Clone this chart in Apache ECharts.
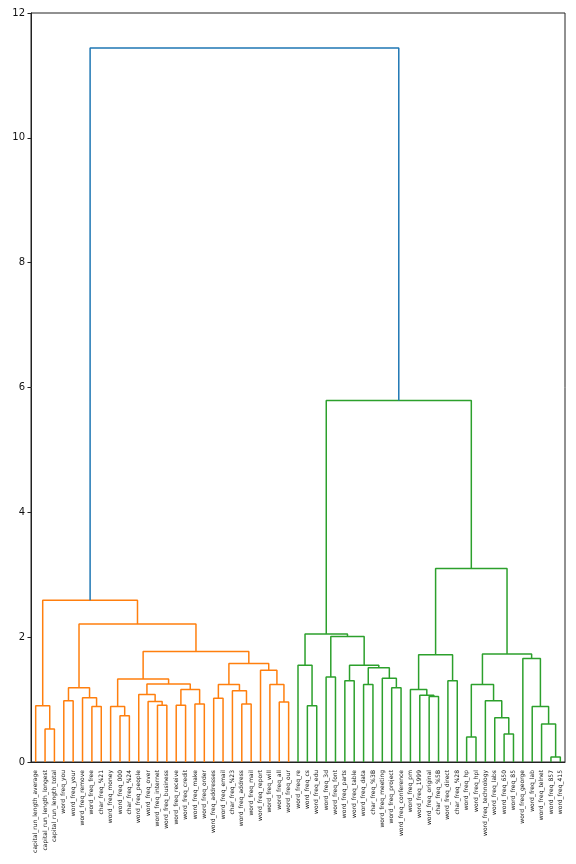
<!DOCTYPE html>
<html>
<head>
<meta charset="utf-8">
<script src="https://cdn.jsdelivr.net/npm/echarts@6/dist/echarts.min.js"></script>
<style>
  html, body { margin: 0; padding: 0; background: #fff; }
  #chart { width: 576px; height: 864px; }
</style>
</head>
<body>
<div id="chart"></div>
<script>
// leaves, in the order they appear along the x axis
const leaves = [
  'capital_run_length_average', 'capital_run_length_longest', 'capital_run_length_total',
  'word_freq_you', 'word_freq_your', 'word_freq_remove', 'word_freq_free', 'char_freq_%21',
  'word_freq_money', 'word_freq_000', 'char_freq_%24', 'word_freq_people', 'word_freq_over',
  'word_freq_internet', 'word_freq_business', 'word_freq_receive', 'word_freq_credit',
  'word_freq_make', 'word_freq_order', 'word_freq_addresses', 'word_freq_email', 'char_freq_%23',
  'word_freq_address', 'word_freq_mail', 'word_freq_report', 'word_freq_will', 'word_freq_all',
  'word_freq_our', 'word_freq_re', 'word_freq_cs', 'word_freq_edu', 'word_freq_3d', 'word_freq_font',
  'word_freq_parts', 'word_freq_table', 'word_freq_data', 'char_freq_%3B', 'word_freq_meeting',
  'word_freq_project', 'word_freq_conference', 'word_freq_pm', 'word_freq_1999', 'word_freq_original',
  'char_freq_%5B', 'word_freq_direct', 'char_freq_%28', 'word_freq_hp', 'word_freq_hpl',
  'word_freq_technology', 'word_freq_labs', 'word_freq_650', 'word_freq_85', 'word_freq_george',
  'word_freq_lab', 'word_freq_telnet', 'word_freq_857', 'word_freq_415'
]

// linkage: [left node, right node, height]; merge k becomes node leaves.length + k
const links = [
  [1, 2, 0.53], [0, 57, 0.90], [3, 4, 0.98], [6, 7, 0.89], [5, 60, 1.03], [59, 61, 1.19],
  [9, 10, 0.74], [8, 63, 0.89], [13, 14, 0.91], [12, 65, 0.97], [11, 66, 1.08],
  [15, 16, 0.91], [17, 18, 0.93], [68, 69, 1.16], [67, 70, 1.25], [64, 71, 1.33],
  [19, 20, 1.02], [22, 23, 0.93], [21, 74, 1.14], [73, 75, 1.24],
  [26, 27, 0.96], [25, 77, 1.24], [24, 78, 1.47], [76, 79, 1.58], [72, 80, 1.77],
  [62, 81, 2.21], [58, 82, 2.59],
  [29, 30, 0.90], [28, 84, 1.55], [31, 32, 1.36], [33, 34, 1.30], [35, 36, 1.24],
  [38, 39, 1.19], [37, 89, 1.34], [88, 90, 1.51], [87, 91, 1.55], [86, 92, 2.01], [85, 93, 2.05],
  [42, 43, 1.05], [41, 95, 1.07], [40, 96, 1.16], [44, 45, 1.30], [97, 98, 1.72],
  [46, 47, 0.40], [50, 51, 0.45], [49, 101, 0.71], [48, 102, 0.98], [100, 103, 1.24],
  [55, 56, 0.08], [54, 105, 0.61], [53, 106, 0.89], [52, 107, 1.66], [104, 108, 1.73],
  [99, 109, 3.10], [94, 110, 5.79], [83, 111, 11.44]
]

const yTicks = [0, 2, 4, 6, 8, 10, 12]
const palette = ['#ff7f0e', '#2ca02c', '#d62728', '#9467bd']
const aboveColor = '#1f77b4'

const n = leaves.length
const nodeX = []
const nodeH = []
leaves.forEach((_, i) => { nodeX[i] = 5 + 10 * i; nodeH[i] = 0 })
links.forEach((l, k) => {
  nodeX[n + k] = (nodeX[l[0]] + nodeX[l[1]]) / 2
  nodeH[n + k] = l[2]
})

// colour clusters below 0.7 * max height, like scipy's default
const threshold = 0.7 * Math.max(...links.map(l => l[2]))
const nodeColor = {}
let nextColor = 0
const paint = (id, color) => {
  if (id < n) return
  const l = links[id - n]
  let c = color
  if (!c && l[2] < threshold) c = palette[nextColor++ % palette.length]
  nodeColor[id] = c || aboveColor
  paint(l[0], c)
  paint(l[1], c)
}
paint(n + links.length - 1, null)

const series = links.map((l, k) => {
  const id = n + k
  const a = l[0], b = l[1]
  return {
    type: 'line',
    xAxisIndex: 0,
    symbol: 'none',
    silent: true,
    lineStyle: { width: 1.5, color: nodeColor[id] },
    data: [
      [nodeX[a], nodeH[a]], [nodeX[a], l[2]],
      [nodeX[b], l[2]], [nodeX[b], nodeH[b]]
    ]
  }
})

const chart = echarts.init(document.getElementById('chart'), null, { renderer: 'canvas' })
chart.setOption({
  animation: false,
  backgroundColor: '#fff',
  textStyle: { fontFamily: 'DejaVu Sans' },
  grid: {
    left: 31, right: 11, top: 13, bottom: 102,
    show: true, borderColor: '#222', borderWidth: 1
  },
  xAxis: [
    {
      type: 'value', min: 0, max: 10 * n,
      show: false
    },
    {
      type: 'category', data: leaves, position: 'bottom',
      boundaryGap: true,
      axisLine: { show: true, lineStyle: { color: '#222' } },
      axisTick: { show: false },
      splitLine: { show: false },
      axisLabel: {
        interval: 0, rotate: 90, fontSize: 6, margin: 8,
        color: '#111', fontFamily: 'DejaVu Sans'
      }
    }
  ],
  yAxis: {
    type: 'value', min: yTicks[0], max: yTicks[yTicks.length - 1], interval: 2,
    axisLine: { show: true, lineStyle: { color: '#222' } },
    axisTick: { show: true, length: 3.5, lineStyle: { color: '#222' } },
    splitLine: { show: false },
    axisLabel: { fontSize: 10, color: '#111', margin: 6, fontFamily: 'DejaVu Sans' }
  },
  series: series
})
</script>
</body>
</html>
